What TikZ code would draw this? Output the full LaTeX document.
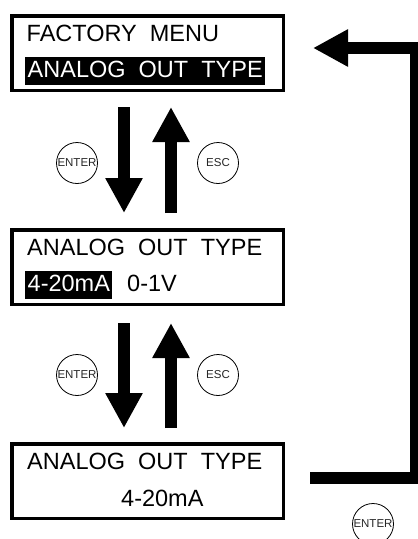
\documentclass[tikz,border=0pt]{standalone}
\usepackage{fontspec}
\setmainfont{Liberation Sans}
\usetikzlibrary{arrows.meta}
\begin{document}
\begin{tikzpicture}[x=1pt,y=-1pt,
  lcd/.style={draw, line width=3.5pt, minimum width=271.5pt, minimum height=74.5pt, inner sep=0pt},
  txt/.style={anchor=base west, inner sep=0pt, font=\fontsize{23.5}{23.5}\selectfont},
  hl/.style={txt, fill=black, text=white, inner xsep=2.5pt, text height=20pt, text depth=8pt},
  key/.style={circle, draw, line width=0.8pt, minimum size=41pt, inner sep=0pt, font=\fontsize{11.5}{11.5}\selectfont, text=black!85},
  bigarrow/.style={line width=11.5pt, -{Triangle[length=35pt,width=35pt]}}
]
\useasboundingbox (0,0) rectangle (418,539);
\clip (0,0) rectangle (418,539);

% display boxes
\node[lcd] (box1) at (147.5,53) {};
\node[lcd] (box2) at (147.5,267) {};
\node[lcd] (box3) at (147.5,481) {};

% texts
\node[txt] (t1a) at (26.5,41.5) {FACTORY~~MENU};
\node[hl]  (t1b) at (25,77.3) {ANALOG~~OUT~~TYPE};
\node[txt] (t2a) at (27,255.5) {ANALOG~~OUT~~TYPE};
\node[hl]  (t2b) at (25,291) {4-20mA};
\node[txt] (t2c) at (127,291) {0-1V};
\node[txt] (t3a) at (27,469.5) {ANALOG~~OUT~~TYPE};
\node[txt] (t3b) at (121,506) {4-20mA};

% keys
\node[key] (k1) at (77,163) {ENTER};
\node[key] (k2) at (218,163) {ESC};
\node[key] (k3) at (77,375) {ENTER};
\node[key] (k4) at (218,375) {ESC};
\node[key] (k5) at (373,524) {ENTER};

% vertical arrows
\draw[bigarrow, shorten <=15pt, shorten >=15pt] ([xshift=-23.5pt]box1.south) -- ([xshift=-23.5pt]box2.north);
\draw[bigarrow, shorten <=15pt, shorten >=15pt] ([xshift=23.5pt]box2.north) -- ([xshift=23.5pt]box1.south);
\draw[bigarrow, shorten <=17pt, shorten >=14pt] ([xshift=-23.5pt]box2.south) -- ([xshift=-23.5pt]box3.north);
\draw[bigarrow, shorten <=14pt, shorten >=17pt] ([xshift=23.5pt]box3.north) -- ([xshift=23.5pt]box2.south);

% return loop
\coordinate (lb) at (310,478);
\coordinate (rt) at (415.5,48);
\coordinate (tip) at ([shift={(28pt,5pt)}]box1.east);
\draw[bigarrow] (lb) -| (rt) -- (tip);
\end{tikzpicture}
\end{document}
